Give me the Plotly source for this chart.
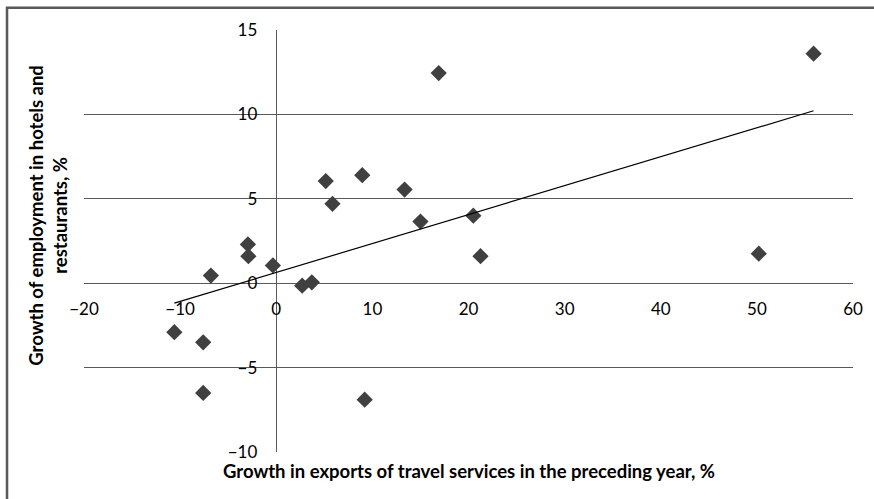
import numpy as np
import plotly.graph_objects as go

# Data
export_growth = [-10.6, -7.6, -7.6, -6.8, -2.95, -2.9, -0.35, 2.7, 3.7, 5.15,
                 5.85, 8.95, 9.2, 13.35, 15.0, 16.9, 20.5, 21.25, 50.2, 55.9]
employment_growth = [-2.9, -3.5, -6.5, 0.45, 2.3, 1.6, 1.05, -0.15, 0.05, 6.05,
                     4.7, 6.4, -6.9, 5.55, 3.65, 12.45, 4.0, 1.6, 1.75, 13.6]
x_ticks = [-20, -10, 0, 10, 20, 30, 40, 50, 60]
y_ticks = [-10, -5, 0, 5, 10, 15]
x_title = "Growth in exports of travel services in the preceding year, %"
y_title = "Growth of employment in hotels and<br>restaurants, %"

X_RANGE = [-20, 60]
Y_RANGE = [-10, 15]

# Linear trend line (least squares), from min x to max x
slope, intercept = np.polyfit(export_growth, employment_growth, 1)
trend_x = [min(export_growth), max(export_growth)]
trend_y = [slope * v + intercept for v in trend_x]

FONT = "Lato"
GRID = "#595959"

fig = go.Figure()
fig.add_trace(go.Scatter(
    x=export_growth, y=employment_growth, mode="markers",
    marker=dict(symbol="diamond", size=12.5, color="#404040", line=dict(width=0)),
    showlegend=False, hoverinfo="x+y"))
fig.add_trace(go.Scatter(
    x=trend_x, y=trend_y, mode="lines",
    line=dict(color="#000000", width=1.2), showlegend=False, hoverinfo="skip"))

x_pos = (0 - Y_RANGE[0]) / (Y_RANGE[1] - Y_RANGE[0])
y_pos = (0 - X_RANGE[0]) / (X_RANGE[1] - X_RANGE[0])

fig.update_layout(
    width=874, height=499,
    margin=dict(l=84, r=21, t=30, b=47),
    paper_bgcolor="white", plot_bgcolor="white",
    font=dict(family=FONT, size=17, color="#000000"),
    xaxis=dict(range=X_RANGE, tickvals=x_ticks, showgrid=False, automargin=False,
               zeroline=True, zerolinecolor=GRID, zerolinewidth=1,
               showline=False, ticks="", anchor="free", position=x_pos,
               ticklabelstandoff=14, tickfont=dict(family=FONT, size=17, color="#000")),
    yaxis=dict(range=Y_RANGE, tickvals=y_ticks, showgrid=True, gridcolor=GRID, gridwidth=1,
               automargin=False,
               zeroline=True, zerolinecolor=GRID, zerolinewidth=1,
               showline=False, ticks="", anchor="free", position=y_pos,
               ticklabelstandoff=19, tickfont=dict(family=FONT, size=17, color="#000")),
    shapes=[dict(type="rect", xref="paper", yref="paper",
                 x0=-0.1001, x1=1.2, y0=-0.3, y1=1.0529,
                 line=dict(color="#595959", width=2.5), fillcolor="rgba(0,0,0,0)",
                 layer="above")],
    annotations=[
        dict(text="<b>" + x_title + "</b>", xref="paper", yref="paper", x=0.5, y=-0.046,
             xanchor="center", yanchor="middle", showarrow=False,
             font=dict(family=FONT, size=18.5, color="#000")),
        dict(text="<b>" + y_title + "</b>", xref="paper", yref="paper", x=-0.047, y=0.562,
             xanchor="center", yanchor="middle", showarrow=False, textangle=-90,
             font=dict(family=FONT, size=18.5, color="#000")),
    ],
)

fig.write_html("out.html", config={"displayModeBar": False},
               post_script="document.body.style.margin='0';")
